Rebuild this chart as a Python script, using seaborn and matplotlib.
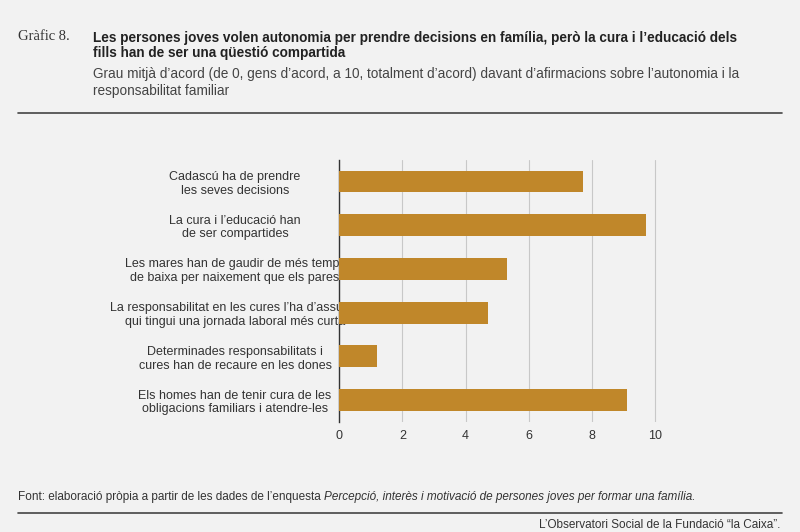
import seaborn as sns
import matplotlib.pyplot as plt
import pandas as pd

statements = [
    "Cadascú ha de prendre\nles seves decisions",
    "La cura i l’educació han\nde ser compartides",
    "Les mares han de gaudir de més temps\nde baixa per naixement que els pares",
    "La responsabilitat en les cures l’ha d’assumir\nqui tingui una jornada laboral més curta",
    "Determinades responsabilitats i\ncures han de recaure en les dones",
    "Els homes han de tenir cura de les\nobligacions familiars i atendre-les",
]
values = [7.7, 9.7, 5.3, 4.7, 1.2, 9.1]
ticks = [0, 2, 4, 6, 8, 10]

df = pd.DataFrame({"statement": statements, "value": values})

sns.set_theme(style="white")
plt.rcParams['font.family'] = ['Liberation Sans', 'DejaVu Sans']
bg = "#f2f2f2"
fig = plt.figure(figsize=(8, 5.32), dpi=100, facecolor=bg)
ax = fig.add_axes([0.424, 0.207, 0.415, 0.493], facecolor=bg)

sns.barplot(data=df, x="value", y="statement", color="#c0872a", saturation=1, width=0.5,
            linewidth=0, ax=ax, zorder=3)
ax.set_xlim(0, 10.5)
ax.set_xticks(ticks)
ax.set_xticklabels([str(t) for t in ticks], fontsize=9, color="#333333")
ax.tick_params(axis="y", labelsize=9, colors="#333333", length=0, pad=75)
ax.tick_params(axis="x", length=0, pad=6)
for lbl in ax.get_yticklabels():
    lbl.set_horizontalalignment("center")
ax.set_xlabel("")
ax.set_ylabel("")
ax.grid(axis="x", color="#c8c8c8", linewidth=0.8, zorder=0)
for s in ["top", "right", "bottom"]:
    ax.spines[s].set_visible(False)
ax.spines["left"].set_color("#333333")
ax.spines["left"].set_linewidth(1)

fig.text(0.022, 0.932, "Gràfic 8.", fontsize=10.5, color="#333333", family="Liberation Serif", va="center")
fig.text(0.116, 0.915, "Les persones joves volen autonomia per prendre decisions en família, però la cura i l’educació dels\nfills han de ser una qüestió compartida",
         fontsize=9.8, fontweight="bold", color="#222222", va="center", linespacing=1.1)
fig.text(0.116, 0.845, "Grau mitjà d’acord (de 0, gens d’acord, a 10, totalment d’acord) davant d’afirmacions sobre l’autonomia i la\nresponsabilitat familiar",
         fontsize=9.8, color="#444444", va="center", linespacing=1.3)
fig.add_artist(plt.Line2D([0.022, 0.978], [0.787, 0.787], color="#444444", linewidth=1.2))
t1 = fig.text(0.022, 0.066, "Font: elaboració pròpia a partir de les dades de l’enquesta", fontsize=8.5, color="#333333", va="center")
fig.canvas.draw()
bb = t1.get_window_extent().transformed(fig.transFigure.inverted())
fig.text(bb.x1 + 0.005, 0.066, "Percepció, interès i motivació de persones joves per formar una família.", fontsize=8.5,
         color="#333333", va="center", style="italic")
fig.add_artist(plt.Line2D([0.022, 0.978], [0.036, 0.036], color="#444444", linewidth=1.2))
fig.text(0.975, 0.014, "L’Observatori Social de la Fundació “la Caixa”.", fontsize=8.5, color="#333333", ha="right", va="center")

plt.savefig("out.png", dpi=100, facecolor=bg)
plt.close()
